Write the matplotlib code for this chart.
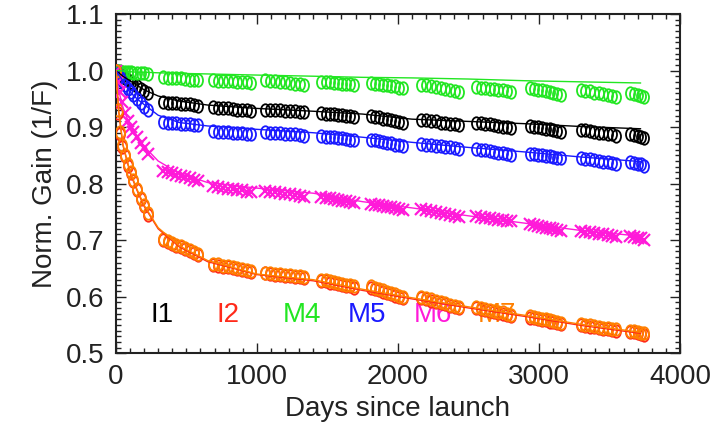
import matplotlib
matplotlib.use("Agg")
import matplotlib.pyplot as plt
from matplotlib.path import Path
from matplotlib.transforms import Affine2D
from matplotlib.ticker import MultipleLocator

# measurement days (early phase + yearly campaigns)
days = [0, 14, 28, 45, 65, 85, 105, 125, 150, 175, 200, 228,
        337, 368, 399, 430, 461, 492, 523, 554, 585,
        692, 726, 760, 794, 828, 862, 896, 930, 961,
        1060, 1095, 1130, 1165, 1200, 1235, 1270, 1305, 1337,
        1458, 1487, 1516, 1545, 1574, 1603, 1632, 1661, 1691,
        1812, 1840, 1868, 1896, 1924, 1952, 1980, 2008, 2039,
        2167, 2201, 2235, 2269, 2303, 2337, 2371, 2405, 2436,
        2557, 2588, 2619, 2650, 2681, 2712, 2743, 2774, 2805,
        2940, 2967, 2994, 3021, 3048, 3075, 3102, 3129, 3159,
        3295, 3327, 3359, 3391, 3423, 3455, 3487, 3519, 3549,
        3649, 3674, 3699, 3724, 3748]

gain_i1 = [1.000, 0.997, 0.994, 0.991, 0.987, 0.983, 0.980, 0.976, 0.972, 0.968, 0.964, 0.960,
           0.944, 0.943, 0.943, 0.942, 0.941, 0.940, 0.940, 0.939, 0.938,
           0.935, 0.934, 0.934, 0.933, 0.932, 0.931, 0.931, 0.930, 0.929,
           0.931, 0.931, 0.930, 0.930, 0.929, 0.928, 0.928, 0.927, 0.926,
           0.925, 0.924, 0.924, 0.923, 0.922, 0.921, 0.920, 0.919, 0.918,
           0.920, 0.918, 0.917, 0.915, 0.914, 0.912, 0.911, 0.909, 0.907,
           0.913, 0.912, 0.911, 0.910, 0.908, 0.907, 0.906, 0.905, 0.903,
           0.908, 0.907, 0.906, 0.905, 0.903, 0.902, 0.901, 0.900, 0.898,
           0.902, 0.901, 0.900, 0.898, 0.897, 0.896, 0.894, 0.893, 0.891,
           0.895, 0.894, 0.893, 0.892, 0.890, 0.889, 0.888, 0.887, 0.885,
           0.888, 0.886, 0.884, 0.882, 0.880]

gain_i2 = [1.000, 0.925, 0.888, 0.865, 0.848, 0.832, 0.818, 0.804, 0.788, 0.773, 0.760, 0.745,
           0.700, 0.697, 0.693, 0.690, 0.687, 0.684, 0.680, 0.677, 0.674,
           0.656, 0.655, 0.653, 0.652, 0.650, 0.649, 0.647, 0.646, 0.644,
           0.641, 0.640, 0.639, 0.638, 0.637, 0.636, 0.635, 0.634, 0.633,
           0.628, 0.627, 0.625, 0.624, 0.622, 0.621, 0.619, 0.618, 0.616,
           0.616, 0.614, 0.611, 0.609, 0.607, 0.605, 0.602, 0.600, 0.598,
           0.598, 0.596, 0.593, 0.591, 0.589, 0.587, 0.584, 0.582, 0.580,
           0.580, 0.578, 0.577, 0.575, 0.573, 0.571, 0.570, 0.568, 0.566,
           0.563, 0.562, 0.560, 0.559, 0.558, 0.556, 0.555, 0.553, 0.552,
           0.549, 0.548, 0.547, 0.546, 0.545, 0.543, 0.542, 0.541, 0.540,
           0.538, 0.537, 0.536, 0.534, 0.533]

gain_m4 = [1.000, 0.999, 0.999, 0.998, 0.998, 0.997, 0.997, 0.996, 0.996, 0.995, 0.995, 0.994,
           0.988, 0.987, 0.987, 0.986, 0.986, 0.985, 0.984, 0.984, 0.983,
           0.983, 0.982, 0.982, 0.981, 0.981, 0.980, 0.979, 0.979, 0.978,
           0.983, 0.982, 0.981, 0.980, 0.979, 0.978, 0.977, 0.976, 0.975,
           0.980, 0.979, 0.979, 0.978, 0.978, 0.977, 0.976, 0.976, 0.975,
           0.978, 0.977, 0.976, 0.975, 0.974, 0.973, 0.972, 0.970, 0.969,
           0.975, 0.974, 0.972, 0.971, 0.969, 0.967, 0.966, 0.964, 0.962,
           0.971, 0.970, 0.969, 0.968, 0.967, 0.966, 0.965, 0.963, 0.962,
           0.969, 0.968, 0.966, 0.965, 0.963, 0.962, 0.960, 0.959, 0.957,
           0.966, 0.964, 0.963, 0.961, 0.960, 0.958, 0.956, 0.955, 0.953,
           0.960, 0.958, 0.956, 0.955, 0.953]

gain_m5 = [1.000, 0.994, 0.988, 0.982, 0.975, 0.968, 0.962, 0.956, 0.949, 0.942, 0.936, 0.930,
           0.909, 0.908, 0.908, 0.907, 0.906, 0.905, 0.905, 0.904, 0.903,
           0.893, 0.892, 0.892, 0.891, 0.890, 0.889, 0.889, 0.888, 0.887,
           0.891, 0.890, 0.890, 0.889, 0.888, 0.887, 0.887, 0.886, 0.885,
           0.884, 0.883, 0.883, 0.882, 0.881, 0.880, 0.879, 0.878, 0.877,
           0.878, 0.877, 0.875, 0.874, 0.872, 0.871, 0.869, 0.868, 0.866,
           0.870, 0.869, 0.868, 0.867, 0.866, 0.865, 0.864, 0.863, 0.862,
           0.861, 0.860, 0.859, 0.858, 0.856, 0.855, 0.854, 0.853, 0.851,
           0.853, 0.852, 0.851, 0.850, 0.849, 0.848, 0.847, 0.846, 0.845,
           0.845, 0.844, 0.843, 0.842, 0.840, 0.839, 0.838, 0.837, 0.835,
           0.838, 0.837, 0.835, 0.834, 0.832]

gain_m6 = [1.000, 0.980, 0.962, 0.944, 0.925, 0.910, 0.900, 0.892, 0.882, 0.872, 0.863, 0.853,
           0.823, 0.821, 0.819, 0.816, 0.814, 0.812, 0.810, 0.807, 0.805,
           0.795, 0.794, 0.793, 0.791, 0.790, 0.789, 0.788, 0.786, 0.785,
           0.787, 0.786, 0.785, 0.783, 0.782, 0.781, 0.780, 0.778, 0.777,
           0.776, 0.775, 0.774, 0.772, 0.771, 0.770, 0.769, 0.767, 0.766,
           0.764, 0.763, 0.762, 0.760, 0.759, 0.758, 0.757, 0.755, 0.754,
           0.755, 0.753, 0.751, 0.750, 0.748, 0.746, 0.744, 0.743, 0.741,
           0.742, 0.741, 0.740, 0.739, 0.738, 0.736, 0.735, 0.734, 0.733,
           0.728, 0.727, 0.725, 0.724, 0.722, 0.721, 0.719, 0.718, 0.716,
           0.716, 0.715, 0.714, 0.712, 0.711, 0.710, 0.709, 0.707, 0.706,
           0.707, 0.706, 0.704, 0.703, 0.701]

gain_m7 = [1.000, 0.930, 0.892, 0.868, 0.850, 0.834, 0.820, 0.806, 0.790, 0.775, 0.762, 0.748,
           0.702, 0.699, 0.695, 0.692, 0.689, 0.686, 0.682, 0.679, 0.676,
           0.658, 0.657, 0.655, 0.654, 0.652, 0.651, 0.649, 0.648, 0.646,
           0.642, 0.641, 0.640, 0.640, 0.639, 0.638, 0.637, 0.636, 0.635,
           0.630, 0.629, 0.627, 0.626, 0.624, 0.623, 0.621, 0.620, 0.618,
           0.618, 0.616, 0.613, 0.611, 0.609, 0.607, 0.604, 0.602, 0.600,
           0.600, 0.598, 0.595, 0.593, 0.591, 0.589, 0.586, 0.584, 0.582,
           0.582, 0.580, 0.579, 0.577, 0.575, 0.573, 0.572, 0.570, 0.568,
           0.565, 0.564, 0.562, 0.561, 0.560, 0.558, 0.557, 0.555, 0.554,
           0.551, 0.550, 0.549, 0.548, 0.547, 0.545, 0.544, 0.543, 0.542,
           0.540, 0.539, 0.538, 0.536, 0.535]

# fitted trend curves
fit_days = [0, 20, 50, 100, 150, 200, 300, 450, 650, 1000, 1400, 1750,
            2100, 2500, 2900, 3300, 3720]
fit_i1 = [1.000, 0.996, 0.990, 0.982, 0.974, 0.966, 0.955, 0.946, 0.939, 0.933,
          0.928, 0.923, 0.914, 0.910, 0.906, 0.901, 0.897]
fit_i2 = [1.000, 0.928, 0.868, 0.820, 0.788, 0.760, 0.720, 0.688, 0.662, 0.639,
          0.628, 0.611, 0.596, 0.580, 0.565, 0.549, 0.535]
fit_m4 = [1.000, 1.000, 0.999, 0.998, 0.997, 0.997, 0.996, 0.995, 0.994, 0.992,
          0.990, 0.988, 0.987, 0.985, 0.982, 0.980, 0.978]
fit_m5 = [1.000, 0.993, 0.982, 0.962, 0.950, 0.940, 0.921, 0.908, 0.902, 0.896,
          0.890, 0.882, 0.873, 0.864, 0.856, 0.847, 0.839]
fit_m6 = [1.000, 0.965, 0.935, 0.903, 0.882, 0.866, 0.840, 0.818, 0.802, 0.792,
          0.783, 0.768, 0.757, 0.743, 0.730, 0.717, 0.707]
fit_m7 = [1.000, 0.930, 0.870, 0.822, 0.790, 0.762, 0.722, 0.690, 0.664, 0.640,
          0.630, 0.613, 0.598, 0.582, 0.567, 0.551, 0.537]

bands = ["I1", "I2", "M4", "M5", "M6", "M7"]
label_x = [326, 794, 1319, 1780, 2248, 2702]
label_y = 0.568

plt.rcParams['font.family'] = ['Liberation Sans', 'DejaVu Sans']

colors = {"I1": "black", "I2": "#ff2a1a", "M4": "#22e622", "M5": "#1a1aff",
          "M6": "#ff1ad9", "M7": "#ff8000"}

# circles in the original look slightly tall
ell = Path.unit_circle().transformed(Affine2D().scale(0.72, 1.0))

fig = plt.figure(figsize=(7.15, 4.25), dpi=100)
ax = fig.add_axes([0.162, 0.169, 0.789, 0.798])

# band names sit under the data
for b, lx in zip(bands, label_x):
    ax.text(lx, label_y, b, color=colors[b], fontsize=20, ha="center",
            va="center", zorder=1)

series = [("I1", gain_i1, fit_i1, ell), ("M4", gain_m4, fit_m4, ell),
          ("M5", gain_m5, fit_m5, ell), ("M6", gain_m6, fit_m6, "x"),
          ("I2", gain_i2, fit_i2, ell), ("M7", gain_m7, fit_m7, ell)]
for b, g, f, mk in series:
    c = colors[b]
    if mk == "x":
        ax.plot(days, g, ls="none", marker="x", ms=8, mew=1.6, color=c, zorder=3)
    else:
        ax.plot(days, g, ls="none", marker=mk, ms=9, mew=1.3, mfc="none",
                mec=c, zorder=3)
    ax.plot(fit_days, f, color=c, lw=1.0, zorder=4)

ax.set_xlim(0, 4000)
ax.set_ylim(0.5, 1.1)
ax.xaxis.set_major_locator(MultipleLocator(1000))
ax.xaxis.set_minor_locator(MultipleLocator(100))
ax.yaxis.set_major_locator(MultipleLocator(0.1))
ax.yaxis.set_minor_locator(MultipleLocator(0.01))
ax.yaxis.set_major_formatter(plt.FuncFormatter(lambda v, p: f"{v:.1f}"))
ax.tick_params(which="both", direction="in", top=True, right=True,
               labelsize=20, colors="#222222", width=1.0)
ax.tick_params(which="major", length=7, pad=8)
ax.tick_params(which="minor", length=3.5)
for s in ax.spines.values():
    s.set_linewidth(1.5)
    s.set_color("#222222")

ax.set_xlabel("Days since launch", fontsize=20, color="#222222", labelpad=4)
ax.set_ylabel("Norm. Gain (1/F)", fontsize=20, color="#222222", labelpad=6)

fig.savefig("out.png", dpi=100)
